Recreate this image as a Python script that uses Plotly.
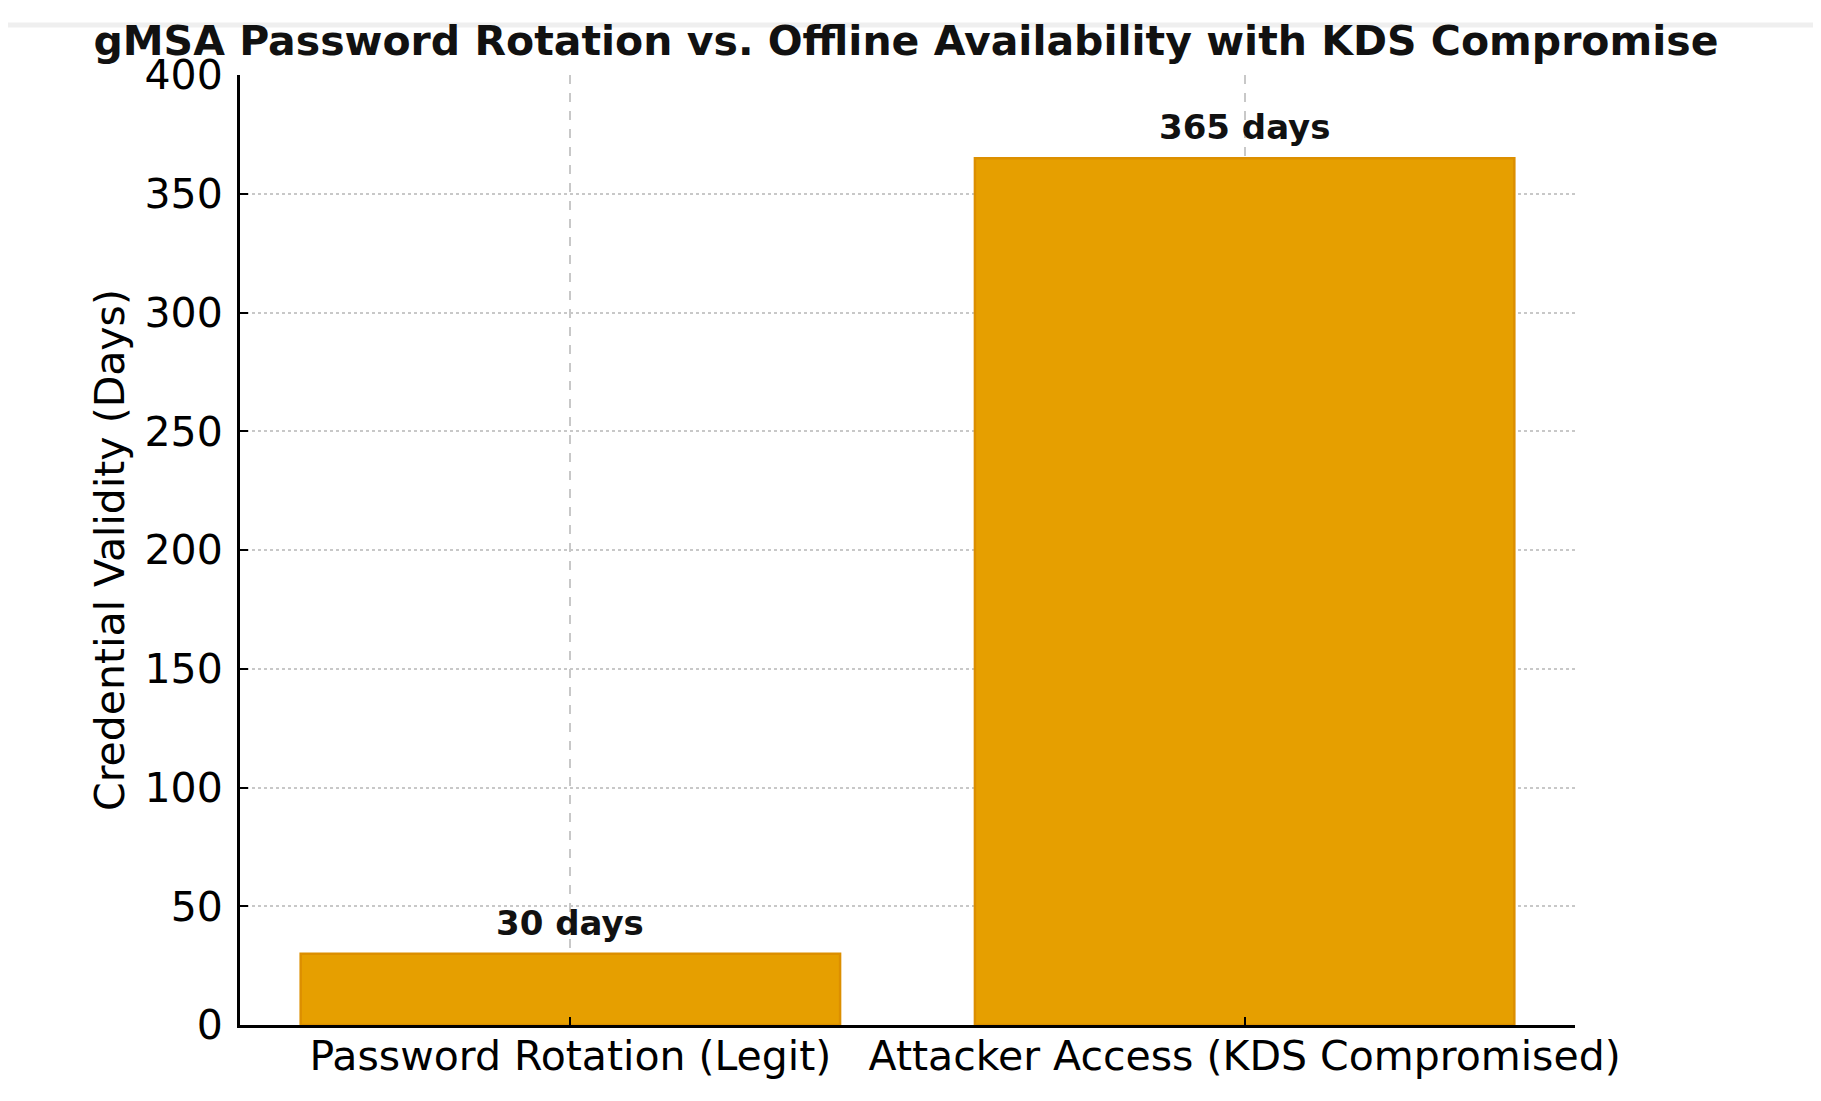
import plotly.graph_objects as go

categories = ["Password Rotation (Legit)", "Attacker Access (KDS Compromised)"]
values = [30, 365]
bar_labels = ["30 days", "365 days"]
y_ticks = [0, 50, 100, 150, 200, 250, 300, 350, 400]

TITLE = "gMSA Password Rotation vs. Offline Availability with KDS Compromise"
Y_TITLE = "Credential Validity (Days)"
FONT = "DejaVu Sans"

W, H = 1821, 1101
# page body adds 8px offset; margins compensate for it
fig = go.Figure()
fig.add_trace(go.Bar(
    x=[0, 1], y=values, width=0.8,
    marker=dict(color="#E69F00", line=dict(color="#DC8F00", width=2.5)),
    hoverinfo="skip",
))

for i, (v, lab) in enumerate(zip(values, bar_labels)):
    fig.add_annotation(x=i, y=v, text=f"<b>{lab}</b>", showarrow=False,
                       yanchor="middle", yshift=31,
                       font=dict(family=FONT, size=34, color="#111111"))

# faint screenshot band at the top
fig.add_shape(type="line", xref="paper", yref="paper", x0=-0.25, x1=1.25,
              y0=1 + 50 / 950, y1=1 + 50 / 950, line=dict(color="#EFEFEF", width=5))

fig.update_layout(
    width=W, height=H,
    margin=dict(l=232, r=254, t=67, b=84, autoexpand=False),
    plot_bgcolor="white", paper_bgcolor="white",
    showlegend=False,
    title=dict(text=f"<b>{TITLE}</b>", x=898 / W, xanchor="center",
               y=1 - 33 / H, yanchor="middle",
               font=dict(family=FONT, size=41, color="#111111")),
    font=dict(family=FONT, color="black"),
    bargap=0.2,
)
fig.update_xaxes(
    range=[-0.49, 1.49], tickmode="array", tickvals=[0, 1], ticktext=categories,
    tickfont=dict(family=FONT, size=41, color="black"),
    showline=True, linecolor="black", linewidth=3,
    ticks="inside", ticklen=8, tickwidth=2, tickcolor="black",
    ticklabelstandoff=-7,
    showgrid=True, gridcolor="#C8C8C8", griddash="dash", gridwidth=1.5,
    zeroline=False, layer="above traces", automargin=False,
)
fig.update_yaxes(
    range=[0, 400], tickmode="array", tickvals=y_ticks,
    tickfont=dict(family=FONT, size=41, color="black"),
    title=dict(text=Y_TITLE, font=dict(family=FONT, size=41, color="black"), standoff=8),
    showline=True, linecolor="black", linewidth=3,
    ticks="inside", ticklen=8, tickwidth=2, tickcolor="black",
    ticklabelstandoff=6,
    showgrid=True, gridcolor="#C8C8C8", griddash="dot", gridwidth=1.5,
    zeroline=False, layer="above traces", automargin=False,
)

fig.write_html("out.html")
